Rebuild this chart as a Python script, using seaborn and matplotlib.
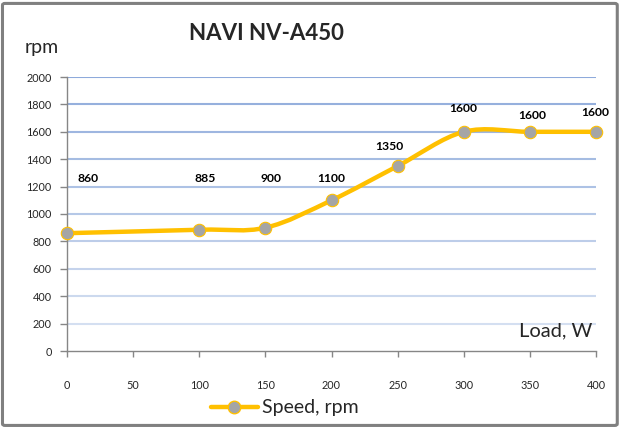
import numpy as np
import matplotlib
matplotlib.use("Agg")
import matplotlib.pyplot as plt
import seaborn as sns
from matplotlib.path import Path
from matplotlib.patches import PathPatch, FancyBboxPatch
from matplotlib.lines import Line2D
import matplotlib.colors as mcolors

# Data
load_w = [0, 100, 150, 200, 250, 300, 350, 400]
speed_rpm = [860, 885, 900, 1100, 1350, 1600, 1600, 1600]
x_ticks = [0, 50, 100, 150, 200, 250, 300, 350, 400]
y_ticks = [0, 200, 400, 600, 800, 1000, 1200, 1400, 1600, 1800, 2000]

# label offsets in pixels (dx, dy) relative to each point
label_offsets = [(21, 55), (6, 51), (6, 49), (0, 22), (-8, 20), (-1, 23), (2, 16), (-1, 19)]

sns.set_style("white")
plt.rcParams['font.family'] = ['Lato', 'DejaVu Sans']

LINE_COL = '#FFC000'
MARK_COL = '#A5A5A5'
AXIS_COL = '#868686'

fig = plt.figure(figsize=(6.21, 4.28), dpi=100)
ax = fig.add_axes([67 / 621, 77 / 428, 529 / 621, 274 / 428])

# gradient-ish gridlines (darker at top, lighter at bottom)
c_top = np.array(mcolors.to_rgb('#8EAADB'))
c_bot = np.array(mcolors.to_rgb('#DCE5F3'))
for v in y_ticks[1:]:
    t = v / 2000
    ax.axhline(v, color=c_bot + (c_top - c_bot) * t, lw=1.5, zorder=1)

# smoothed line like Excel (Catmull-Rom Bezier)
pts = np.column_stack([load_w, speed_rpm]).astype(float)
n = len(pts)
verts = [tuple(pts[0])]
codes = [Path.MOVETO]
for i in range(n - 1):
    p0 = pts[max(i - 1, 0)]
    p1 = pts[i]
    p2 = pts[i + 1]
    p3 = pts[min(i + 2, n - 1)]
    c1 = p1 + (p2 - p0) / 6
    c2 = p2 - (p3 - p1) / 6
    verts += [tuple(c1), tuple(c2), tuple(p2)]
    codes += [Path.CURVE4] * 3
ax.add_patch(PathPatch(Path(verts, codes), facecolor='none', edgecolor=LINE_COL,
                       lw=3.2, capstyle='round', zorder=2))

sns.scatterplot(x=load_w, y=speed_rpm, ax=ax, s=80, color=MARK_COL,
                edgecolor=LINE_COL, linewidth=0.8, zorder=3, clip_on=False)

for x, y, (dx, dy) in zip(load_w, speed_rpm, label_offsets):
    ax.annotate(str(y), (x, y), xytext=(dx, dy), textcoords='offset pixels',
                ha='center', va='center', fontsize=8.7, fontweight='bold', color='black')

ax.set_xlim(0, 400)
ax.set_ylim(0, 2000)
ax.set_xticks(x_ticks)
ax.set_yticks(y_ticks)
ax.tick_params(axis='x', direction='out', length=4, width=1, color=AXIS_COL,
               pad=17, labelsize=7.8)
ax.tick_params(axis='y', direction='out', length=5, width=1, color=AXIS_COL,
               pad=6, labelsize=7.8)
ax.tick_params(bottom=True, left=True)
for s in ['top', 'right']:
    ax.spines[s].set_visible(False)
for s in ['left', 'bottom']:
    ax.spines[s].set_color(AXIS_COL)
    ax.spines[s].set_linewidth(1)
ax.grid(False)

ax.text(0.993, 0.075, 'Load, W', transform=ax.transAxes, ha='right', va='center', fontsize=14.5)
fig.text(42 / 621, 1 - 47 / 428, 'rpm', ha='center', va='center', fontsize=14)
fig.text(266 / 621, 1 - 33 / 428, 'NAVI NV-A450', ha='center', va='center',
         fontsize=16, fontweight='bold')

handle = Line2D([0], [0], color=LINE_COL, lw=3.2, marker='o', markersize=9,
                markerfacecolor=MARK_COL, markeredgecolor=LINE_COL)
fig.legend(handles=[handle], labels=['Speed, rpm'], loc='center',
           bbox_to_anchor=(285 / 621, 1 - 408 / 428), frameon=False, fontsize=14,
           handlelength=2.4, handletextpad=0.25)

fig.patches.append(FancyBboxPatch((0.004, 0.006), 0.99, 0.986, boxstyle='round,pad=0,rounding_size=0.004',
                                  transform=fig.transFigure, facecolor='none',
                                  edgecolor='#808080', lw=2.2, figure=fig))

fig.savefig('out.png', dpi=100)
